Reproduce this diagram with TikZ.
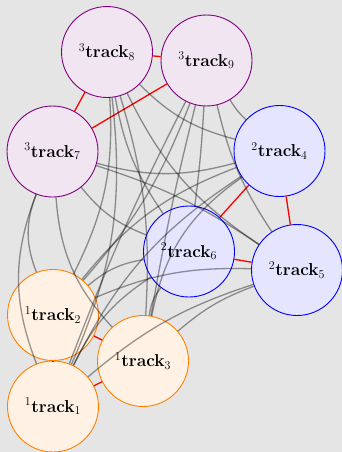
\documentclass[tikz,border=0pt]{standalone}
\begin{document}
\begin{tikzpicture}[x=1pt,y=-1pt,
  trk/.style={circle, minimum size=91pt, inner sep=0pt, line width=0.9pt,
    font=\fontsize{17.5}{21}\selectfont},
  gone/.style={trk, draw=orange, fill=orange!10},
  gtwo/.style={trk, draw=blue, fill=blue!10},
  gthree/.style={trk, draw=violet, fill=violet!10},
  same/.style={red, line width=1.3pt},
  cross/.style={black, opacity=0.4, line width=1.3pt}]
\fill[black!10] (0,0) rectangle (342,452);
\useasboundingbox (0,0) rectangle (342,452);

% tracks
\node[gone]   (t1) at (53,406.5) {${}^{1}\mathbf{track}_{1}$};
\node[gone]   (t2) at (53,315)   {${}^{1}\mathbf{track}_{2}$};
\node[gone]   (t3) at (143,361)  {${}^{1}\mathbf{track}_{3}$};
\node[gtwo]   (t4) at (279.5,151){${}^{2}\mathbf{track}_{4}$};
\node[gtwo]   (t5) at (297,270)  {${}^{2}\mathbf{track}_{5}$};
\node[gtwo]   (t6) at (189,251.5){${}^{2}\mathbf{track}_{6}$};
\node[gthree] (t7) at (52.5,151.5){${}^{3}\mathbf{track}_{7}$};
\node[gthree] (t8) at (107,52)   {${}^{3}\mathbf{track}_{8}$};
\node[gthree] (t9) at (206.5,60.5){${}^{3}\mathbf{track}_{9}$};

% links inside a group
\draw[same] (t1) -- (t2);
\draw[same] (t1) -- (t3);
\draw[same] (t2) -- (t3);
\draw[same] (t4) -- (t5);
\draw[same] (t4) -- (t6);
\draw[same] (t5) -- (t6);
\draw[same] (t7) -- (t8);
\draw[same] (t7) -- (t9);
\draw[same] (t8) -- (t9);

% links between groups (source/target/bend)
\foreach \a/\b/\t in {1/4/15,1/5/11,1/6/15,1/7/21,1/8/-15,1/9/3,
                      2/4/15,2/5/12,2/6/15,2/7/21,2/8/-15,2/9/-10,
                      3/4/22,3/5/10,3/6/15,3/7/19,3/8/-10,3/9/2,
                      4/7/15,4/8/15,4/9/8,
                      5/7/-8,5/8/15,5/9/10,
                      6/7/15,6/8/12,6/9/-2}
  \draw[cross] (t\a) to[bend left=\t] (t\b);
\end{tikzpicture}
\end{document}
